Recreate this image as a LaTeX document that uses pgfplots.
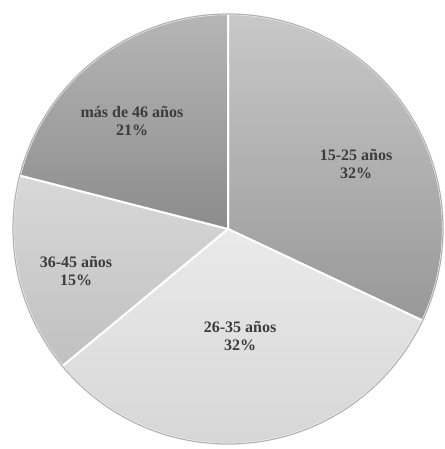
\documentclass[border=0pt]{standalone}
\usepackage{pgfplots}
\pgfplotsset{compat=1.18}
\usepackage{pgfplotstable}
\usepackage{fontspec}
\setmainfont{Liberation Serif}

\definecolor{top0}{HTML}{C8C8C8}\definecolor{bot0}{HTML}{989898}
\definecolor{top1}{HTML}{EAEAEA}\definecolor{bot1}{HTML}{D4D4D4}
\definecolor{top2}{HTML}{D8D8D8}\definecolor{bot2}{HTML}{C0C0C0}
\definecolor{top3}{HTML}{B6B6B6}\definecolor{bot3}{HTML}{8C8C8C}
\definecolor{labtext}{HTML}{3C3C3C}

% slice values (percent), label positions in pixel units
\pgfplotstableread[col sep=comma]{
label,value,lx,ly
15-25 años,32,356,285
26-35 años,32,240,113
36-45 años,15,76,178
más de 46 años,21,132,328
}\piedata

\begin{document}
\begin{tikzpicture}
\begin{axis}[
  hide axis,
  scale only axis,
  width=222pt, height=224.5pt,
  xmin=0, xmax=444, ymin=0, ymax=449,
  clip=false,
]
\def\cum{0}
\pgfplotsforeachungrouped \i in {0,...,3}{
  \pgfplotstablegetelem{\i}{value}\of\piedata
  \let\val\pgfplotsretval
  \pgfmathsetmacro\sa{90-\cum*3.6}
  \pgfmathsetmacro\ea{90-(\cum+\val)*3.6}
  \pgfmathsetmacro\sx{228+215*cos(\sa)}
  \pgfmathsetmacro\sy{220+215*sin(\sa)}
  \pgfmathsetmacro\cum{\cum+\val}
  \edef\cmd{\noexpand\shadedraw[top color=top\i, bottom color=bot\i,
    draw=white, line width=1pt, line join=round]
    (axis cs:228,220) -- (axis cs:\sx,\sy)
    arc[start angle=\sa, end angle=\ea, radius=215] -- cycle;}
  \cmd
}
\draw[black!30, line width=0.6pt] (axis cs:228,220) circle[radius=215];
\pgfplotsforeachungrouped \i in {0,...,3}{
  \pgfplotstablegetelem{\i}{label}\of\piedata \let\lab\pgfplotsretval
  \pgfplotstablegetelem{\i}{value}\of\piedata \let\val\pgfplotsretval
  \pgfplotstablegetelem{\i}{lx}\of\piedata \let\lx\pgfplotsretval
  \pgfplotstablegetelem{\i}{ly}\of\piedata \let\ly\pgfplotsretval
  \edef\cmd{\noexpand\node[align=center, text=labtext,
    font=\noexpand\bfseries\noexpand\fontsize{8}{9}\noexpand\selectfont]
    at (axis cs:\lx,\ly) {\lab\noexpand\\\val\noexpand\%};}
  \cmd
}
\end{axis}
\pgfresetboundingbox
\path[use as bounding box] (current axis.south west) rectangle (current axis.north east);
\end{tikzpicture}
\end{document}
